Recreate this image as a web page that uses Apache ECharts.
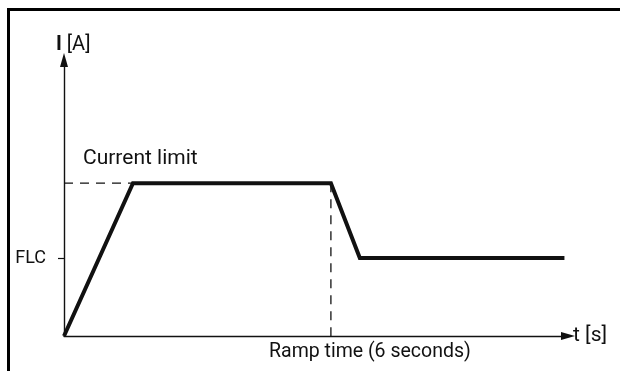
<!DOCTYPE html>
<html>
<head>
<meta charset="utf-8">
<script src="https://cdn.jsdelivr.net/npm/echarts@6/dist/echarts.min.js"></script>
<style>
  html, body { margin: 0; padding: 0; background: #fff; }
  #frame { position: absolute; left: 7px; top: 8px; width: 640px; height: 400px;
           border-top: 3px solid #000; border-left: 3px solid #000; }
  #chart { position: absolute; left: 0; top: 0; width: 620px; height: 371px; }
</style>
</head>
<body>
<div id="frame"></div>
<div id="chart"></div>
<script>
// Soft-start current profile (time in seconds, current in multiples of FLC)
const currentLimit = 1.96;
const flc = 1.0;
const rampTime = 6;
const profileTime = [0, 1.55, 6, 6.65, 11.25];
const profileCurrent = [0, currentLimit, currentLimit, flc, flc];
const axisMaxTime = 11.33;
const axisMaxCurrent = 3.54;
const flcLabel = 'FLC';
const limitLabel = 'Current limit';
const rampLabel = 'Ramp time (6 seconds)';

const font = 'Roboto, "Liberation Sans", Arial, sans-serif';
const ink = '#111';

const profile = profileTime.map((t, i) => [t, profileCurrent[i]]);

const chart = echarts.init(document.getElementById('chart'));
chart.setOption({
  animation: false,
  grid: { left: 64, top: 60, width: 504, height: 276, containLabel: false },
  xAxis: {
    type: 'value', min: 0, max: axisMaxTime,
    splitLine: { show: false },
    axisLine: { lineStyle: { color: ink, width: 1.4 }, symbol: ['none', 'triangle'], symbolSize: [8, 14] },
    axisTick: { show: false },
    axisLabel: { show: false },
    name: 't [s]', nameLocation: 'end', nameGap: 5,
    nameTextStyle: { fontFamily: font, fontSize: 21, color: ink, verticalAlign: 'middle' }
  },
  yAxis: {
    type: 'value', min: 0, max: axisMaxCurrent,
    splitLine: { show: false },
    axisLine: { lineStyle: { color: ink, width: 1.4 }, symbol: ['none', 'triangle'], symbolSize: [8, 14] },
    axisTick: { show: true, customValues: [flc], length: 6, lineStyle: { color: ink, width: 1.2 } },
    axisLabel: { show: true, customValues: [flc], formatter: () => flcLabel, margin: 18,
                 fontFamily: font, fontSize: 18, color: ink },
    name: '{b|I} [A]', nameLocation: 'end', nameGap: 5,
    nameTextStyle: {
      fontFamily: font, fontSize: 20, color: ink, align: 'left', padding: [0, 0, 0, -8],
      rich: { b: { fontFamily: font, fontSize: 20, fontWeight: 'bold', color: ink } }
    }
  },
  series: [
    {
      type: 'line', data: [[0, currentLimit], [profileTime[1], currentLimit]],
      showSymbol: false, silent: true,
      lineStyle: { color: ink, width: 1.3, type: [9, 7] }
    },
    {
      type: 'line', data: [[rampTime, currentLimit], [rampTime, 0]],
      showSymbol: false, silent: true,
      lineStyle: { color: ink, width: 1.3, type: [9, 7] }
    },
    {
      type: 'line', data: profile,
      showSymbol: false, silent: true,
      lineStyle: { color: ink, width: 4, join: 'miter' }
    },
    {
      type: 'scatter', symbolSize: 0, silent: true,
      itemStyle: { opacity: 1 },
      data: [
        { value: [0, currentLimit], label: { formatter: limitLabel, position: 'right', offset: [14, -24], fontSize: 21 } },
        { value: [rampTime, 0], label: { formatter: rampLabel, position: 'bottom', offset: [39, 1], fontSize: 19.5 } }
      ],
      label: { show: true, fontFamily: font, fontSize: 20, color: ink, opacity: 1 }
    }
  ]
});
</script>
</body>
</html>
